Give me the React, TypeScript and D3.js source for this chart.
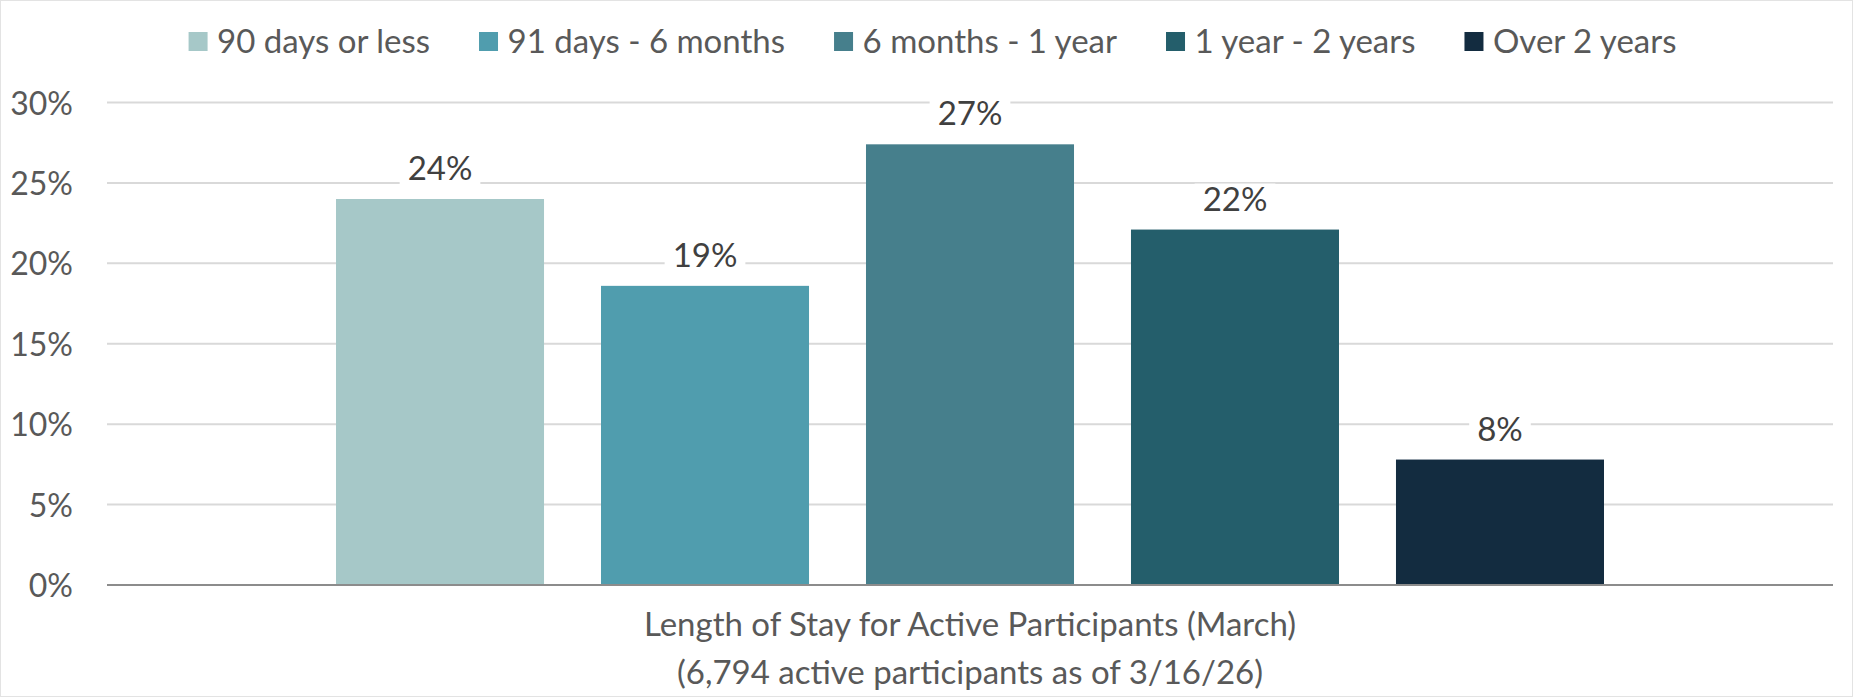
import React, { useEffect, useRef } from "react";
import * as d3 from "d3";

const categories = ["Length of Stay for Active Participants (March)"];
const subtitle = "(6,794 active participants as of 3/16/26)";
const seriesNames = ["90 days or less", "91 days - 6 months", "6 months - 1 year", "1 year - 2 years", "Over 2 years"];
const seriesValues = [24.0, 18.6, 27.4, 22.1, 7.8];
const seriesColors = ["#A6C8C8", "#509DAE", "#467F8C", "#245E6B", "#132C40"];
const yTicks = [0, 5, 10, 15, 20, 25, 30];

const W = 1853;
const H = 697;
const FONT = "Lato, 'Source Sans Pro', 'Open Sans', sans-serif";

export default function App() {
  const ref = useRef<SVGSVGElement>(null);

  useEffect(() => {
    const svg = d3.select(ref.current);
    svg.selectAll("*").remove();

    const plotLeft = 107, plotRight = 1833, plotTop = 102.5, plotBottom = 585;

    const y = d3.scaleLinear().domain([0, 30]).range([plotBottom, plotTop]);
    const x0 = d3.scaleBand<string>().domain(categories).range([plotLeft, plotRight]).paddingInner(0).paddingOuter(0.1806);
    const x1 = d3.scaleBand<string>().domain(seriesNames).range([0, x0.bandwidth()]).paddingInner(0.215).paddingOuter(0);

    // border
    svg.append("rect").attr("x", 0.5).attr("y", 0.5).attr("width", W - 1).attr("height", H - 1)
      .attr("fill", "#fff").attr("stroke", "#E3E3E3").attr("stroke-width", 1);

    // gridlines
    svg.append("g").selectAll("line").data(yTicks.filter(t => t !== 0)).join("line")
      .attr("x1", plotLeft).attr("x2", plotRight)
      .attr("y1", d => y(d)).attr("y2", d => y(d))
      .attr("stroke", "#D9D9D9").attr("stroke-width", 2);

    // y tick labels
    svg.append("g").selectAll("text").data(yTicks).join("text")
      .attr("x", 73).attr("y", d => y(d) + 12)
      .attr("text-anchor", "end")
      .attr("font-family", FONT).attr("font-size", 32).attr("fill", "#595959")
      .text(d => `${d}%`);

    const cat = categories[0];
    const gx = x0(cat) as number;

    // bars
    svg.append("g").selectAll("rect").data(seriesNames).join("rect")
      .attr("x", d => gx + (x1(d) as number))
      .attr("width", x1.bandwidth())
      .attr("y", (d, i) => y(seriesValues[i]))
      .attr("height", (d, i) => y(0) - y(seriesValues[i]))
      .attr("fill", (d, i) => seriesColors[i]);

    // axis line
    svg.append("line").attr("x1", plotLeft).attr("x2", plotRight)
      .attr("y1", y(0)).attr("y2", y(0))
      .attr("stroke", "#8C8C8C").attr("stroke-width", 2);

    // data labels with white background
    const lg = svg.append("g");
    seriesNames.forEach((name, i) => {
      const cx = gx + (x1(name) as number) + x1.bandwidth() / 2;
      const by = y(seriesValues[i]) - 19;
      const g = lg.append("g");
      const bg = g.append("rect").attr("fill", "#fff");
      const t = g.append("text").attr("x", cx).attr("y", by)
        .attr("text-anchor", "middle")
        .attr("font-family", FONT).attr("font-size", 33).attr("fill", "#404040")
        .text(`${Math.round(seriesValues[i])}%`);
      const w = (t.node() as SVGTextElement).getComputedTextLength();
      bg.attr("x", cx - w / 2 - 8).attr("y", by - 27).attr("width", w + 16).attr("height", 33);
    });

    // legend
    const leg = svg.append("g");
    const items: { g: any; w: number }[] = [];
    seriesNames.forEach((name, i) => {
      const g = leg.append("g");
      g.append("rect").attr("x", 0).attr("y", 32).attr("width", 19).attr("height", 19).attr("fill", seriesColors[i]);
      const t = g.append("text").attr("x", 28.5).attr("y", 53)
        .attr("font-family", FONT).attr("font-size", 33).attr("fill", "#595959")
        .text(name);
      const w = 28.5 + (t.node() as SVGTextElement).getComputedTextLength();
      items.push({ g, w });
    });
    const gap = 49;
    const total = d3.sum(items, d => d.w) + gap * (items.length - 1);
    let cx = 932.5 - total / 2;
    items.forEach(it => {
      it.g.attr("transform", `translate(${cx},0)`);
      cx += it.w + gap;
    });

    // category / axis title
    const midX = gx + x0.bandwidth() / 2;
    svg.append("text").attr("x", midX).attr("y", 636).attr("text-anchor", "middle")
      .attr("font-family", FONT).attr("font-size", 33).attr("fill", "#595959").text(cat);
    svg.append("text").attr("x", midX).attr("y", 684).attr("text-anchor", "middle")
      .attr("font-family", FONT).attr("font-size", 33).attr("fill", "#595959").text(subtitle);
  }, []);

  return (
    <svg ref={ref} width={W} height={H} style={{ position: "absolute", left: 0, top: 0, background: "#fff" }} />
  );
}
